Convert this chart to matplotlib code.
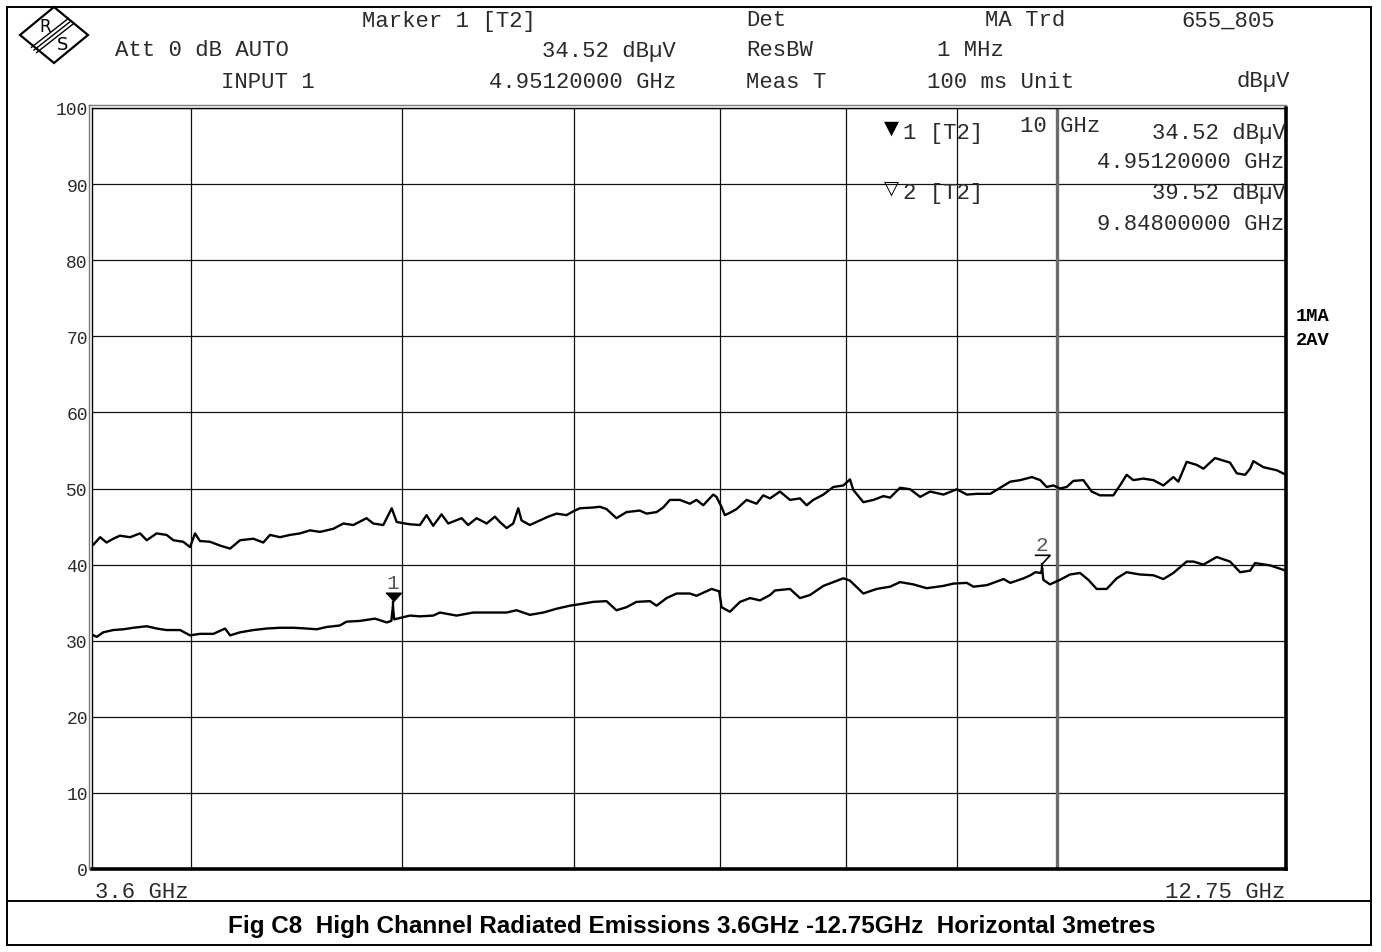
import matplotlib
matplotlib.use("Agg")
import matplotlib.pyplot as plt
from matplotlib.patches import Polygon, Rectangle
from matplotlib.lines import Line2D
from matplotlib.ticker import FixedLocator, NullLocator, NullFormatter
from matplotlib.transforms import offset_copy

# ---------------------------------------------------------------- data
# Trace 1 (MA, max peak) : frequency in GHz, level in dBuV
upper_freq = [3.600, 3.605, 3.631, 3.656, 3.682, 3.708, 3.748, 3.788, 3.815, 3.855,
              3.896, 3.924, 3.965, 3.994, 4.015, 4.036, 4.079, 4.123, 4.167, 4.211,
              4.271, 4.316, 4.347, 4.393, 4.440, 4.487, 4.535, 4.583, 4.648, 4.698,
              4.748, 4.815, 4.849, 4.901, 4.945, 4.971, 5.015, 5.041, 5.095, 5.131,
              5.167, 5.213, 5.250, 5.325, 5.362, 5.410, 5.468, 5.516, 5.545, 5.585,
              5.624, 5.654, 5.674, 5.724, 5.785, 5.836, 5.888, 5.951, 5.993, 6.035,
              6.121, 6.165, 6.208, 6.274, 6.341, 6.431, 6.477, 6.546, 6.592, 6.639,
              6.710, 6.781, 6.829, 6.878, 6.951, 6.975, 7.012, 7.037, 7.074, 7.125,
              7.201, 7.278, 7.329, 7.382, 7.460, 7.540, 7.620, 7.674, 7.728, 7.811,
              7.894, 7.978, 8.034, 8.063, 8.149, 8.236, 8.324, 8.383, 8.472, 8.563,
              8.654, 8.746, 8.870, 8.997, 9.093, 9.190, 9.321, 9.420, 9.521, 9.622,
              9.742, 9.828, 9.895, 9.965, 10.036, 10.107, 10.179, 10.287, 10.378, 10.470,
              10.619, 10.694, 10.770, 10.846, 10.962, 11.079, 11.197, 11.316, 11.376, 11.477,
              11.600, 11.682, 11.827, 12.016, 12.102, 12.209, 12.274, 12.317, 12.448, 12.625,
              12.750]
upper_level = [42.8, 42.6, 43.6, 42.9, 43.4, 43.8, 43.6, 44.1, 43.2, 44.1,
               43.9, 43.2, 43.0, 42.3, 44.1, 43.1, 43.0, 42.5, 42.1, 43.2,
               43.4, 42.9, 43.9, 43.6, 43.9, 44.1, 44.5, 44.3, 44.7, 45.4,
               45.2, 46.1, 45.4, 45.2, 47.4, 45.6, 45.4, 45.3, 45.2, 46.5,
               45.1, 46.6, 45.4, 46.1, 45.2, 46.1, 45.4, 46.3, 45.6, 44.8,
               45.4, 47.4, 45.8, 45.2, 45.8, 46.3, 46.7, 46.5, 47.0, 47.4,
               47.5, 47.6, 47.3, 46.1, 46.9, 47.1, 46.7, 46.9, 47.5, 48.5,
               48.5, 48.0, 48.5, 47.8, 49.2, 48.9, 47.6, 46.5, 46.8, 47.3,
               48.5, 48.0, 49.1, 48.7, 49.6, 48.5, 48.7, 47.8, 48.5, 49.2,
               50.2, 50.4, 51.2, 49.8, 48.2, 48.5, 49.0, 48.8, 50.1, 49.9,
               48.9, 49.6, 49.2, 49.9, 49.2, 49.3, 49.3, 50.1, 50.9, 51.1,
               51.5, 51.1, 50.2, 50.4, 50.0, 50.2, 51.0, 51.1, 49.6, 49.1,
               49.1, 50.4, 51.8, 51.1, 51.3, 51.1, 50.4, 51.5, 50.9, 53.5,
               53.1, 52.6, 54.0, 53.4, 52.0, 51.8, 52.6, 53.6, 52.8, 52.4,
               51.8]

# Trace 2 (AV, average) : frequency in GHz, level in dBuV
lower_freq = [3.600, 3.618, 3.643, 3.682, 3.721, 3.761, 3.815, 3.855, 3.896, 3.952,
              3.994, 4.036, 4.094, 4.145, 4.167, 4.211, 4.271, 4.332, 4.393, 4.456,
              4.519, 4.567, 4.616, 4.681, 4.714, 4.781, 4.858, 4.919, 4.943, 4.9512,
              4.958, 4.990, 5.041, 5.095, 5.167, 5.204, 5.297, 5.391, 5.487, 5.585,
              5.644, 5.724, 5.806, 5.888, 5.972, 6.035, 6.121, 6.208, 6.274, 6.341,
              6.408, 6.500, 6.546, 6.616, 6.686, 6.781, 6.829, 6.939, 6.975, 6.995,
              7.013, 7.075, 7.151, 7.227, 7.304, 7.382, 7.421, 7.540, 7.620, 7.701,
              7.811, 7.894, 7.978, 8.034, 8.149, 8.264, 8.383, 8.472, 8.592, 8.714,
              8.870, 8.963, 9.093, 9.157, 9.288, 9.454, 9.521, 9.657, 9.726, 9.778,
              9.835, 9.848, 9.860, 9.930, 10.036, 10.143, 10.251, 10.342, 10.433, 10.545,
              10.657, 10.770, 10.923, 11.079, 11.197, 11.316, 11.477, 11.559, 11.682, 11.848,
              12.016, 12.145, 12.274, 12.339, 12.536, 12.750]
lower_level = [30.8, 30.5, 31.1, 31.4, 31.5, 31.7, 31.9, 31.6, 31.4, 31.4,
               30.7, 30.9, 30.9, 31.6, 30.7, 31.1, 31.4, 31.6, 31.7, 31.7,
               31.6, 31.5, 31.8, 32.0, 32.5, 32.6, 32.9, 32.4, 32.6, 34.52,
               32.8, 33.0, 33.3, 33.2, 33.3, 33.7, 33.3, 33.7, 33.7, 33.7,
               34.0, 33.4, 33.7, 34.2, 34.6, 34.8, 35.1, 35.2, 34.0, 34.4,
               35.1, 35.2, 34.6, 35.6, 36.2, 36.2, 35.9, 36.8, 36.6, 36.5,
               34.4, 33.8, 35.1, 35.6, 35.3, 36.0, 36.6, 36.8, 35.6, 36.0,
               37.2, 37.7, 38.2, 37.9, 36.2, 36.8, 37.1, 37.7, 37.4, 36.9,
               37.2, 37.5, 37.6, 37.1, 37.3, 38.1, 37.6, 38.2, 38.6, 39.0,
               38.9, 39.52, 38.0, 37.4, 38.0, 38.7, 38.9, 38.0, 36.8, 36.8,
               38.2, 39.0, 38.7, 38.6, 38.1, 38.9, 40.4, 40.4, 40.0, 41.0,
               40.4, 39.0, 39.2, 40.2, 39.9, 39.2]

# markers (trace 2)
marker_freq = [4.9512, 9.848]
marker_level = [34.52, 39.52]
marker_names = ["1", "2"]

# axis settings
f_start, f_stop = 3.6, 12.75
grid_freqs = [4, 5, 6, 7, 8, 9]
display_line_freq = 10
level_ticks = [0, 10, 20, 30, 40, 50, 60, 70, 80, 90, 100]
level_labels = ["0", "10", "20", "30", "40", "50", "60", "70", "80", "90", "100"]

caption = "Fig C8  High Channel Radiated Emissions 3.6GHz -12.75GHz  Horizontal 3metres"

# ---------------------------------------------------------------- figure
W, H = 1381, 953
fig = plt.figure(figsize=(W / 100, H / 100), dpi=100)
fig.patch.set_facecolor("white")
MONO = ["Liberation Mono", "DejaVu Sans Mono"]
INK = "#2a2a2a"

# pixel-space overlay for the instrument screen furniture
ov = fig.add_axes([0, 0, 1, 1], zorder=5)
ov.set_xlim(0, W)
ov.set_ylim(H, 0)
ov.axis("off")
ov.patch.set_visible(False)

L, R, T, B = 92, 1286, 109, 870
ax = fig.add_axes([L / W, 1 - B / H, (R - L) / W, (B - T) / H], zorder=2)
ax.set_xscale("log")
ax.set_xlim(f_start, f_stop)
ax.set_ylim(0, 100)
ax.xaxis.set_major_locator(FixedLocator(grid_freqs))
ax.xaxis.set_minor_locator(NullLocator())
ax.xaxis.set_major_formatter(NullFormatter())
ax.xaxis.set_minor_formatter(NullFormatter())
ax.set_yticks(level_ticks)
ax.set_yticklabels(level_labels, fontfamily=MONO, fontsize=13, color=INK)
ax.tick_params(length=0, pad=3)
ax.grid(True, color="#111111", lw=0.9)
ax.set_axisbelow(True)
for s in ("left", "top"):
    ax.spines[s].set_linewidth(1.0)
for s in ("right", "bottom"):
    ax.spines[s].set_linewidth(2.6)

# display line at 10 GHz
ax.axvline(display_line_freq, color="#6d6d6d", lw=2.4, zorder=1.5)

# traces
ax.plot(upper_freq, upper_level, color="black", lw=1.7, zorder=3)
ax.plot(lower_freq, lower_level, color="black", lw=1.7, zorder=3)

# markers: short stem above the trace point, then the triangle symbol
tri = [(-1, 0.55), (1, 0.55), (0, -0.55)]
for i, (mf, ml, name) in enumerate(zip(marker_freq, marker_level, marker_names)):
    filled = i == 0
    ax.plot([mf, mf], [ml, ml + 0.6], color="black", lw=1.7, zorder=4)
    tr = offset_copy(ax.transData, fig=fig, x=0, y=9, units="dots")
    ax.plot([mf], [ml], marker=tri, ms=11,
            mfc="black" if filled else "white", mec="black", mew=1.2,
            transform=tr, zorder=5, ls="none")
    ax.annotate(name, xy=(mf, ml), xytext=(0, 24), textcoords="offset pixels",
                ha="center", va="center", fontsize=15, fontfamily=MONO,
                color="#555555", zorder=4)

# double edge on left / top of the graticule
ov.add_line(Line2D([89, 89], [106, B], color="#777777", lw=1.0))
ov.add_line(Line2D([89, R], [106, 106], color="#777777", lw=1.0))

# outer frame and caption box
ov.add_patch(Rectangle((7, 8), 1364, 938, fill=False, ec="black", lw=1.4))
ov.add_line(Line2D([7, 1371], [902, 902], color="black", lw=1.4))

# R&S logo
cx, cy = 54, 36
ov.add_patch(Polygon([(cx - 34, cy), (cx, cy - 28), (cx + 34, cy), (cx, cy + 28)],
                     closed=True, fill=False, ec="black", lw=1.6))
for d in (-2.6, 0, 2.6):
    ov.add_line(Line2D([cx - 20 + d, cx + 17 + d], [cy + 15 + d, cy - 14 + d],
                       color="black", lw=1.0))
ov.text(cx - 9, cy - 9, "R", fontsize=12, fontfamily="DejaVu Sans", ha="center", va="center")
ov.text(cx + 9, cy + 9, "S", fontsize=13, fontfamily="DejaVu Sans", ha="center", va="center")

# header text
hdr = dict(fontsize=16, fontfamily=MONO, va="center", color=INK)
ov.text(449, 21, "Marker 1 [T2]", ha="center", **hdr)
ov.text(746, 21, "Det", ha="left", **hdr)
ov.text(1025, 21, "MA Trd", ha="center", **hdr)
ov.text(1228, 21, "655_805", ha="center", **hdr)
ov.text(202, 51, "Att 0 dB AUTO", ha="center", **hdr)
ov.text(676, 51, "34.52 dBµV", ha="right", **hdr)
ov.text(746, 51, "ResBW", ha="left", **hdr)
ov.text(970, 51, "1 MHz", ha="center", **hdr)
ov.text(268, 82, "INPUT 1", ha="center", **hdr)
ov.text(676, 82, "4.95120000 GHz", ha="right", **hdr)
ov.text(746, 82, "Meas T", ha="left", **hdr)
ov.text(1001, 82, "100 ms Unit", ha="center", **hdr)
ov.text(1290, 82, "dBµV", ha="right", **hdr)

# marker readout inside the graticule
ov.text(891, 128, "▼", ha="center", fontsize=14, fontfamily=["DejaVu Sans"], va="center", color="black")
ov.text(903, 133, "1 [T2]", ha="left", **hdr)
ov.text(1060, 126, "10 GHz", ha="center", **hdr)
ov.text(1286, 133, "34.52 dBµV", ha="right", **hdr)
ov.text(1284, 163, "4.95120000 GHz", ha="right", **hdr)
ov.text(891, 188, "▽", ha="center", fontsize=14, fontfamily=["DejaVu Sans"], va="center", color="black")
ov.text(903, 194, "2 [T2]", ha="left", **hdr)
ov.text(1286, 194, "39.52 dBµV", ha="right", **hdr)
ov.text(1284, 224, "9.84800000 GHz", ha="right", **hdr)

# trace labels at right
ov.text(1296, 317, "1MA", ha="left", va="center", fontsize=13.5, fontweight="bold", fontfamily=MONO)
ov.text(1296, 341, "2AV", ha="left", va="center", fontsize=13.5, fontweight="bold", fontfamily=MONO)

# frequency span labels
ov.text(95, 893, "3.6 GHz", ha="left", **hdr)
ov.text(1285, 893, "12.75 GHz", ha="right", **hdr)

# caption
ov.text(692, 927, caption, ha="center", va="center", fontsize=17.5,
        fontweight="bold", fontfamily=["Liberation Sans", "DejaVu Sans"])

fig.savefig("out.png", dpi=100, facecolor="white")
